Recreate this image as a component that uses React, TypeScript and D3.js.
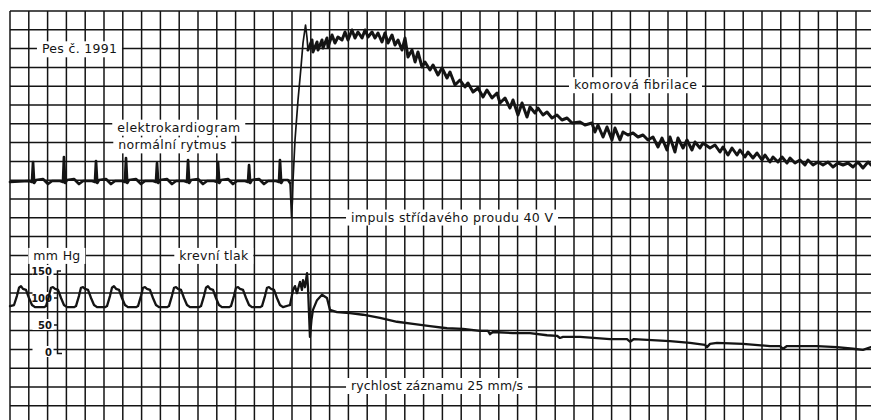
import React from 'react';
import * as d3 from 'd3';

// chart paper runs at 25 mm/s: one 5 mm square = 0.2 s
// ECG in mV (baseline 0), blood pressure in mm Hg

const ecgNormal: [number, number][] = [
  [0, -0.025],
  [0.202, 0], [0.234, -0.025], [0.245, 0.475], [0.257, -0.05], [0.277, 0.025], [0.351, 0.05], [0.404, -0.075], [0.447, 0],
  [0.532, 0], [0.564, -0.025], [0.574, 0.6], [0.587, -0.05], [0.606, 0.025], [0.681, 0.05], [0.734, -0.075], [0.777, 0],
  [0.872, 0], [0.904, -0.025], [0.915, 0.5], [0.928, -0.05], [0.947, 0.025], [1.021, 0.05], [1.074, -0.075], [1.117, 0],
  [1.191, 0], [1.223, -0.025], [1.234, 0.575], [1.247, -0.05], [1.266, 0.025], [1.34, 0.05], [1.394, -0.075], [1.436, 0],
  [1.521, 0], [1.553, -0.025], [1.564, 0.45], [1.577, -0.05], [1.596, 0.025], [1.67, 0.05], [1.723, -0.075], [1.766, 0],
  [1.851, 0], [1.883, -0.025], [1.894, 0.525], [1.906, -0.05], [1.926, 0.025], [2.0, 0.05], [2.053, -0.075], [2.096, 0],
  [2.17, 0], [2.202, -0.025], [2.213, 0.475], [2.226, -0.05], [2.245, 0.025], [2.319, 0.05], [2.372, -0.075], [2.415, 0],
  [2.5, 0], [2.532, -0.025], [2.543, 0.4], [2.555, -0.05], [2.574, 0.025], [2.649, 0.05], [2.702, -0.075], [2.745, 0],
  [2.83, 0], [2.862, -0.025], [2.872, 0.525], [2.885, -0.05], [2.904, 0.025], [2.957, 0.025], [2.979, -0.05],
];

// the 40 V AC impulse
const ecgShock: [number, number][] = [
  [2.979, -0.05], [2.995, -0.9], [3.005, -0.475], [3.011, 0.025], [3.032, 1.025], [3.064, 2.025],
  [3.096, 2.85], [3.117, 3.45], [3.144, 3.9], [3.16, 3.575], [3.17, 3.275],
];

// ventricular fibrillation
const ecgFibrillation: [number, number][] = [
  [3.17, 3.275], [3.213, 3.525], [3.223, 3.225], [3.266, 3.475], [3.277, 3.275], [3.319, 3.525], [3.33, 3.325],
  [3.372, 3.575], [3.383, 3.35], [3.426, 3.65], [3.457, 3.45], [3.489, 3.6], [3.532, 3.525], [3.564, 3.725],
  [3.596, 3.525], [3.638, 3.775], [3.67, 3.575], [3.702, 3.725], [3.745, 3.575], [3.777, 3.775], [3.809, 3.6],
  [3.851, 3.725], [3.883, 3.575], [3.915, 3.7], [3.957, 3.475], [3.989, 3.7], [4.021, 3.45], [4.064, 3.65],
  [4.096, 3.4], [4.128, 3.525], [4.17, 3.275], [4.202, 3.575], [4.234, 3.1], [4.277, 3.275], [4.309, 2.975],
  [4.34, 3.225], [4.383, 2.85], [4.415, 2.975], [4.468, 2.775], [4.5, 2.9], [4.553, 2.65], [4.596, 2.825],
  [4.649, 2.575], [4.681, 2.725], [4.734, 2.4], [4.787, 2.525], [4.84, 2.35], [4.872, 2.45], [4.926, 2.225],
  [4.979, 2.325], [5.032, 2.1], [5.074, 2.275], [5.128, 2.075], [5.181, 2.2], [5.213, 1.95], [5.266, 2.075],
  [5.319, 1.825], [5.351, 2.025], [5.404, 1.65], [5.447, 1.95], [5.5, 1.6], [5.532, 1.85], [5.585, 1.7],
  [5.617, 1.825], [5.67, 1.65], [5.713, 1.725], [5.766, 1.575], [5.819, 1.65], [5.872, 1.525], [5.926, 1.575],
  [5.979, 1.45], [6.064, 1.475], [6.117, 1.4], [6.191, 1.45], [6.223, 1.225], [6.255, 1.4], [6.309, 1.1],
  [6.351, 1.35], [6.404, 1.025], [6.436, 1.325], [6.489, 1.025], [6.521, 1.225], [6.574, 1.15], [6.628, 1.2],
  [6.681, 1.1], [6.734, 1.15], [6.787, 1.025], [6.84, 1.1], [6.894, 0.85], [6.936, 1.075], [6.989, 0.775],
  [7.021, 1.1], [7.074, 0.725], [7.106, 1.075], [7.16, 0.825], [7.202, 1.025], [7.255, 0.775], [7.287, 0.975],
  [7.34, 0.825], [7.372, 0.95], [7.447, 0.825], [7.5, 0.9], [7.553, 0.725], [7.585, 0.85], [7.638, 0.65],
  [7.681, 0.825], [7.734, 0.65], [7.766, 0.775], [7.819, 0.6], [7.851, 0.725], [7.904, 0.575], [7.947, 0.7],
  [8.0, 0.525], [8.032, 0.65], [8.085, 0.475], [8.117, 0.6], [8.17, 0.475], [8.213, 0.6], [8.266, 0.45],
  [8.298, 0.575], [8.351, 0.45], [8.404, 0.525], [8.457, 0.4], [8.489, 0.525], [8.543, 0.4], [8.596, 0.475],
  [8.649, 0.4], [8.702, 0.475], [8.755, 0.35], [8.809, 0.45], [8.862, 0.4], [8.915, 0.45], [8.968, 0.35],
  [9.021, 0.475], [9.074, 0.325], [9.128, 0.475], [9.16, 0.4],
];

const bpNormal: [number, number][] = [
  [0, 85], [0.043, 87], [0.074, 104], [0.096, 119], [0.117, 122], [0.138, 117], [0.17, 115], [0.202, 100], [0.234, 87], [0.266, 83], [0.362, 83],
  [0.383, 85], [0.415, 104], [0.436, 119], [0.457, 120], [0.479, 117], [0.511, 115], [0.543, 100], [0.574, 87], [0.606, 83], [0.681, 83],
  [0.702, 85], [0.734, 104], [0.755, 119], [0.777, 120], [0.798, 117], [0.83, 115], [0.862, 100], [0.894, 87], [0.926, 83], [1.011, 83],
  [1.032, 85], [1.064, 104], [1.085, 119], [1.106, 122], [1.128, 117], [1.16, 115], [1.191, 100], [1.223, 87], [1.255, 83], [1.34, 83],
  [1.362, 85], [1.394, 104], [1.415, 119], [1.436, 120], [1.457, 117], [1.489, 115], [1.521, 100], [1.553, 87], [1.585, 83], [1.67, 83],
  [1.691, 85], [1.723, 104], [1.745, 119], [1.766, 120], [1.787, 117], [1.819, 115], [1.851, 100], [1.883, 87], [1.915, 83], [2.011, 83],
  [2.032, 85], [2.064, 104], [2.085, 119], [2.106, 122], [2.128, 117], [2.16, 115], [2.191, 100], [2.223, 87], [2.255, 83], [2.33, 83],
  [2.351, 85], [2.383, 104], [2.404, 119], [2.426, 120], [2.447, 117], [2.479, 115], [2.511, 100], [2.543, 87], [2.574, 83], [2.66, 83],
  [2.681, 85], [2.713, 104], [2.734, 119], [2.755, 120], [2.777, 117], [2.809, 115], [2.84, 100], [2.872, 87], [2.904, 83], [2.979, 87],
];

const bpAfter: [number, number][] = [
  [2.979, 87], [3.011, 115], [3.032, 122], [3.053, 109], [3.085, 130], [3.106, 115], [3.117, 133], [3.138, 120],
  [3.16, 146], [3.17, 120], [3.191, 28], [3.207, 59], [3.223, 78], [3.266, 96], [3.319, 106], [3.372, 100],
  [3.404, 78], [3.479, 74], [3.617, 72], [3.755, 69], [3.936, 63], [4.117, 56], [4.287, 52], [4.468, 48],
  [4.649, 44], [4.819, 43], [5.0, 39], [5.085, 39], [5.106, 33], [5.138, 37], [5.351, 35], [5.532, 35],
  [5.713, 31], [5.819, 30], [5.851, 26], [5.883, 28], [6.064, 28], [6.383, 24], [6.564, 24], [6.596, 19],
  [6.638, 24], [7.021, 20], [7.234, 17], [7.394, 13], [7.415, 9], [7.447, 15], [7.521, 17], [7.798, 15],
  [8.085, 11], [8.191, 11], [8.223, 6], [8.266, 11], [8.585, 11], [8.798, 9], [8.968, 6], [9.074, 4], [9.16, 9],
];

const bpTicks = [0, 50, 100, 150];

// annotation text, anchored at a time (s) and a paper row (mm from top line)
const annotations = [
  { text: 'Pes č. 1991', t: 0.34, mm: 11.25, w: 75 },
  { text: 'elektrokardiogram', t: 1.141, mm: 32.1, w: 123 },
  { text: 'normální rytmus', t: 1.152, mm: 36.8, w: 108 },
  { text: 'komorová fibrilace', t: 6.0, mm: 20.8, w: 123 },
  { text: 'impuls střídavého proudu 40 V', t: 3.628, mm: 56.0, w: 202 },
  { text: 'mm Hg', t: 0.248, mm: 66.2, w: 47 },
  { text: 'krevní tlak', t: 1.801, mm: 66.2, w: 69 },
  { text: 'rychlost záznamu 25 mm/s', t: 3.628, mm: 100.8, w: 172 },
];

const W = 871;
const H = 420;
const INK = '#141414';

export default function App() {
  const x = d3.scaleLinear().domain([0, 9]).range([10, 856]);
  const paperY = d3.scaleLinear().domain([0, 5]).range([11, 29.8]);
  const ecgY = d3.scaleLinear().domain([0, 1]).range([181, 141]);
  const bpY = d3.scaleLinear().domain([0, 150]).range([352, 271]);

  const ecgLine = d3.line<[number, number]>().x((d) => x(d[0])).y((d) => ecgY(d[1]));
  const bpLine = d3.line<[number, number]>().x((d) => x(d[0])).y((d) => bpY(d[1]));

  const vLines = d3.range(0, 46).map((i) => i * 0.2);
  const hLines = d3.range(0, 22).map((i) => i * 5);

  const axisX = 57.5;
  const font = '"DejaVu Sans", sans-serif';

  return (
    <svg
      width={W}
      height={H}
      style={{ position: 'fixed', left: 0, top: 0, background: '#fff' }}
    >
      <rect width={W} height={H} fill="#fff" />
      <g stroke={INK} strokeWidth={1.5}>
        {vLines.map((t) => (
          <line key={'v' + t} x1={x(t)} x2={x(t)} y1={paperY(0)} y2={H} />
        ))}
        {hLines.map((m) => (
          <line key={'h' + m} x1={x(0)} x2={W} y1={paperY(m)} y2={paperY(m)} />
        ))}
      </g>

      {annotations.map((a) => (
        <g key={a.text}>
          <rect
            x={x(a.t) - 5}
            y={paperY(a.mm) - 12}
            width={a.w + 10}
            height={16}
            fill="#fff"
          />
          <text
            x={x(a.t)}
            y={paperY(a.mm)}
            fontFamily={font}
            fontSize={12.5}
            fill={INK}
            textLength={a.w}
            lengthAdjust="spacing"
          >
            {a.text}
          </text>
        </g>
      ))}

      {/* pressure scale */}
      <g>
        {bpTicks.map((v) => (
          <g key={v}>
            <rect x={axisX - 25} y={bpY(v) - 6} width={21} height={11} fill="#fff" />
            <text
              x={axisX - 5.5}
              y={bpY(v) + 4}
              textAnchor="end"
              fontFamily={font}
              fontSize={10}
              fontWeight="bold"
              fill={INK}
            >
              {v}
            </text>
          </g>
        ))}
        <path
          d={`M${axisX + 3.5},${bpY(150)}H${axisX}V${bpY(0) + 1.5}H${axisX + 4.5}`}
          fill="none"
          stroke={INK}
          strokeWidth={1.5}
        />
        {[50, 100].map((v) => (
          <line key={'t' + v} x1={axisX - 3.5} x2={axisX} y1={bpY(v)} y2={bpY(v)} stroke={INK} strokeWidth={1.5} />
        ))}
      </g>

      <g fill="none" stroke={INK} strokeLinejoin="round" strokeLinecap="round">
        <path d={ecgLine(ecgNormal) || ''} strokeWidth={2.7} />
        <path d={ecgLine(ecgShock) || ''} strokeWidth={1.7} />
        <path d={ecgLine(ecgFibrillation) || ''} strokeWidth={3} />
        <path d={bpLine(bpNormal) || ''} strokeWidth={2.3} />
        <path d={bpLine(bpAfter) || ''} strokeWidth={2.3} />
      </g>
    </svg>
  );
}
